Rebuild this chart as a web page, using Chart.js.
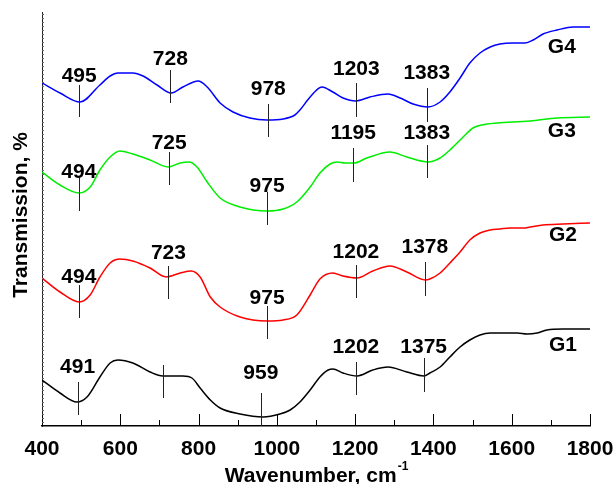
<!DOCTYPE html>
<html>
<head>
<meta charset="utf-8">
<script src="https://cdn.jsdelivr.net/npm/chart.js@4/dist/chart.umd.min.js"></script>
<style>
  html, body { margin: 0; padding: 0; background: #fff; }
</style>
</head>
<body>
<canvas id="ftir" width="616" height="484"></canvas>
<script>
// axis ticks
const xTicks = [400, 600, 800, 1000, 1200, 1400, 1600, 1800];
const xMinorTicks = [500, 700, 900, 1100, 1300, 1500, 1700];

// curves (offset transmission, arbitrary units)
const g1Wn = [400, 446, 489, 515, 548, 574, 594, 632, 676, 709, 760, 783, 804, 830, 855, 906, 965, 1008, 1034, 1059, 1085, 1110, 1131, 1143, 1169, 1205, 1245, 1284, 1332, 1376, 1391, 1417, 1442, 1468, 1493, 1519, 1545, 1578, 1614, 1639, 1665, 1690, 1731, 1800];
const g1T = [46, 33, 24, 29, 49, 63, 66, 63, 54, 50, 50, 48, 38, 26, 18, 12, 9, 12, 16, 24, 36, 49, 56, 57, 53, 50, 56, 59, 54, 50, 53, 59, 69, 79, 86, 91, 93, 93, 93, 92, 93, 96, 97, 97];

const g2Wn = [400, 446, 495, 523, 548, 574, 599, 632, 676, 717, 753, 781, 804, 830, 855, 906, 975, 1016, 1051, 1085, 1110, 1143, 1169, 1205, 1245, 1289, 1332, 1379, 1391, 1417, 1442, 1468, 1493, 1519, 1545, 1570, 1596, 1629, 1647, 1680, 1731, 1800];
const g2T = [148, 134, 124, 131, 149, 163, 167, 165, 158, 149, 153, 155, 149, 129, 119, 109, 105, 106, 111, 131, 147, 153, 150, 148, 155, 160, 154, 146, 147, 153, 163, 174, 186, 193, 196, 197, 198, 198, 199, 201, 202, 203];

const g3Wn = [400, 446, 495, 523, 548, 574, 599, 632, 676, 722, 753, 776, 796, 822, 855, 906, 975, 1016, 1051, 1085, 1110, 1136, 1154, 1175, 1197, 1230, 1289, 1332, 1386, 1417, 1442, 1476, 1501, 1537, 1563, 1647, 1716, 1800];
const g3T = [254, 241, 233, 239, 256, 269, 275, 272, 266, 259, 263, 264, 259, 244, 228, 219, 215, 217, 224, 239, 253, 262, 264, 263, 263, 268, 274, 269, 264, 268, 276, 289, 298, 302, 303, 305, 308, 309];

const g4Wn = [400, 446, 497, 548, 574, 594, 632, 658, 694, 730, 760, 799, 822, 855, 888, 931, 975, 1016, 1046, 1059, 1085, 1115, 1143, 1169, 1202, 1238, 1284, 1315, 1348, 1386, 1417, 1442, 1468, 1493, 1519, 1545, 1570, 1603, 1634, 1655, 1680, 1716, 1757, 1800];
const g4T = [343, 333, 324, 341, 350, 353, 353, 350, 341, 333, 339, 345, 339, 323, 314, 308, 306, 307, 311, 316, 329, 339, 334, 328, 325, 329, 332, 328, 322, 319, 324, 334, 348, 363, 373, 379, 382, 383, 383, 386, 392, 396, 399, 399];

// peak markers: position, text, marker top/bottom, text height
const g1Peaks = [491, 710, 959, 1202, 1375];
const g1PeakText = ['491', '', '959', '1202', '1375'];
const g1PeakTop = [44, 61, 33, 64, 68];
const g1PeakBottom = [11, 28, 0, 31, 34];
const g1TextY = [59, 0, 53, 79, 79];

const g2Peaks = [494, 723, 975, 1202, 1378];
const g2PeakText = ['494', '723', '975', '1202', '1378'];
const g2PeakTop = [141, 160, 120, 161, 164];
const g2PeakBottom = [108, 127, 87, 128, 130];
const g2TextY = [149, 173, 128, 174, 179];

const g3Peaks = [494, 725, 975, 1195, 1383];
const g3PeakText = ['494', '725', '975', '1195', '1383'];
const g3PeakTop = [249, 274, 234, 278, 281];
const g3PeakBottom = [215, 241, 201, 244, 248];
const g3TextY = [254, 283, 240, 293, 293];

const g4Peaks = [495, 728, 978, 1203, 1383];
const g4PeakText = ['495', '728', '978', '1203', '1383'];
const g4PeakTop = [341, 356, 322, 343, 338];
const g4PeakBottom = [309, 323, 289, 309, 304];
const g4TextY = [350, 367, 337, 357, 353];

// series names next to the right end
const seriesNames = ['G1', 'G2', 'G3', 'G4'];
const nameX = [1731, 1731, 1728, 1728];
const nameY = [81, 191, 295, 379];

const colors = ['#000000', '#ff0000', '#00ee00', '#0000ff'];
const FONT = '"Liberation Sans", Arial, sans-serif';
const FS = 21;

const toPoints = (wn, t) => wn.map((w, i) => ({ x: w, y: t[i] }));

const peakSets = [
  { at: g1Peaks, text: g1PeakText, top: g1PeakTop, bottom: g1PeakBottom, textY: g1TextY },
  { at: g2Peaks, text: g2PeakText, top: g2PeakTop, bottom: g2PeakBottom, textY: g2TextY },
  { at: g3Peaks, text: g3PeakText, top: g3PeakTop, bottom: g3PeakBottom, textY: g3TextY },
  { at: g4Peaks, text: g4PeakText, top: g4PeakTop, bottom: g4PeakBottom, textY: g4TextY }
];

// inward ticks, peak markers, names and axis titles
const decor = {
  id: 'decor',
  afterDatasetsDraw(chart) {
    const { ctx, chartArea: a, scales: { x, y } } = chart;
    ctx.save();

    ctx.strokeStyle = '#000';
    ctx.lineWidth = 1;
    ctx.beginPath();
    xTicks.forEach(v => {
      const px = Math.round(x.getPixelForValue(v)) + 0.5;
      ctx.moveTo(px, a.bottom);
      ctx.lineTo(px, a.bottom - 12);
    });
    xMinorTicks.forEach(v => {
      const px = Math.round(x.getPixelForValue(v)) + 0.5;
      ctx.moveTo(px, a.bottom);
      ctx.lineTo(px, a.bottom - 6);
    });
    ctx.stroke();

    // dense little ticks on the y axis
    ctx.strokeStyle = '#666';
    ctx.beginPath();
    for (let v = 4; v < 414; v += 4) {
      const py = Math.round(y.getPixelForValue(v)) + 0.5;
      ctx.moveTo(a.left, py);
      ctx.lineTo(a.left + 2, py);
    }
    ctx.stroke();

    // peak markers
    ctx.strokeStyle = '#222';
    ctx.fillStyle = '#000';
    ctx.font = 'bold ' + FS + 'px ' + FONT;
    ctx.textAlign = 'center';
    ctx.textBaseline = 'middle';
    peakSets.forEach(s => {
      s.at.forEach((w, i) => {
        const px = Math.round(x.getPixelForValue(w)) + 0.5;
        ctx.beginPath();
        ctx.moveTo(px, y.getPixelForValue(s.top[i]));
        ctx.lineTo(px, y.getPixelForValue(s.bottom[i]));
        ctx.stroke();
        if (s.text[i]) ctx.fillText(s.text[i], x.getPixelForValue(w), y.getPixelForValue(s.textY[i]));
      });
    });

    seriesNames.forEach((n, i) => {
      ctx.fillText(n, x.getPixelForValue(nameX[i]), y.getPixelForValue(nameY[i]));
    });

    // x title with superscript
    const main = 'Wavenumber, cm';
    const sup = '-1';
    ctx.font = 'bold ' + FS + 'px ' + FONT;
    const wMain = ctx.measureText(main).width;
    ctx.font = 'bold 12px ' + FONT;
    const wSup = ctx.measureText(sup).width;
    const cx = (a.left + a.right) / 2;
    const startX = cx - (wMain + wSup) / 2;
    ctx.textAlign = 'left';
    ctx.textBaseline = 'alphabetic';
    ctx.font = 'bold ' + FS + 'px ' + FONT;
    ctx.fillText(main, startX, 482);
    ctx.font = 'bold 12px ' + FONT;
    ctx.fillText(sup, startX + wMain + 1, 470);

    // y title
    ctx.font = 'bold ' + FS + 'px ' + FONT;
    ctx.translate(27, (a.top + a.bottom) / 2 - 4);
    ctx.rotate(-Math.PI / 2);
    ctx.textAlign = 'center';
    ctx.fillText('Transmission, %', 0, 0);

    ctx.restore();
  }
};

new Chart(document.getElementById('ftir'), {
  type: 'line',
  data: {
    datasets: [
      { label: 'G1', data: toPoints(g1Wn, g1T), borderColor: colors[0] },
      { label: 'G2', data: toPoints(g2Wn, g2T), borderColor: colors[1] },
      { label: 'G3', data: toPoints(g3Wn, g3T), borderColor: colors[2] },
      { label: 'G4', data: toPoints(g4Wn, g4T), borderColor: colors[3] }
    ]
  },
  options: {
    responsive: false,
    animation: false,
    events: [],
    datasets: {
      line: { borderWidth: 1.5, pointRadius: 0, cubicInterpolationMode: 'monotone', fill: false }
    },
    layout: { padding: { top: 12, right: 26, left: 0, bottom: 0 } },
    plugins: { legend: { display: false }, tooltip: { enabled: false } },
    scales: {
      x: {
        type: 'linear',
        min: 400,
        max: 1800,
        afterFit: s => { s.height = 58; s.paddingLeft = 0; s.paddingRight = 0; },
        afterBuildTicks: s => { s.ticks = xTicks.map(v => ({ value: v })); },
        grid: { display: false, drawTicks: false },
        border: { display: true, color: '#000', width: 1.5 },
        ticks: {
          autoSkip: false,
          maxRotation: 0,
          padding: 11,
          color: '#000',
          callback: v => String(v),
          font: { family: FONT, size: FS, weight: 'bold' }
        }
      },
      y: {
        type: 'linear',
        min: 0,
        max: 414,
        afterFit: s => { s.width = 42; s.paddingTop = 0; s.paddingBottom = 0; },
        grid: { display: false, drawTicks: false },
        border: { display: true, color: '#222', width: 1 },
        ticks: { display: false }
      }
    }
  },
  plugins: [decor]
});
</script>
</body>
</html>
